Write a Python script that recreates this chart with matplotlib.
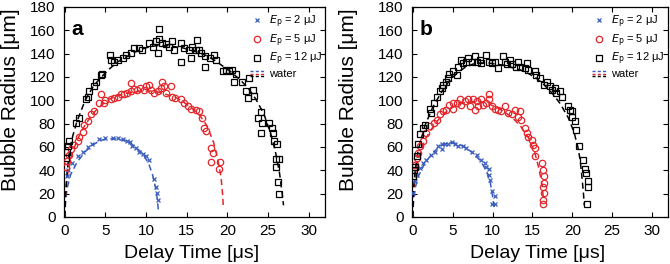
import numpy as np
import matplotlib
matplotlib.use("Agg")
import matplotlib.pyplot as plt
from matplotlib.legend_handler import HandlerBase
from matplotlib.lines import Line2D

plt.rcParams['font.family'] = ['Liberation Sans Narrow', 'Liberation Sans', 'DejaVu Sans']
plt.rcParams['mathtext.fontset'] = 'custom'
plt.rcParams['mathtext.rm'] = 'Liberation Sans Narrow'
plt.rcParams['mathtext.it'] = 'Liberation Sans Narrow:italic'

BLUE = '#3a5dbd'
RED = '#e3262b'
BLACK = '#000000'

# ---- panel a : measured points (t [us], R [um]) ----
a_2_t = [0.3, 0.4, 0.9, 1.6, 2.2, 2.8, 3.4, 4.2, 5.0, 5.9, 6.5, 7.1, 7.7, 8.0, 8.3, 8.8, 9.1, 9.6, 10.0, 10.4, 11.0, 11.2, 11.3, 11.4]
a_2_r = [35, 40, 46, 52, 56, 60, 63, 67, 68, 68, 68, 67, 65, 64, 61, 59, 56, 54, 52, 49, 33, 26, 21, 15]

a_5_t = [0.1, 0.3, 0.5, 0.7, 1.1, 1.6, 1.8, 2.2, 2.4, 2.8, 3.2, 3.6, 4.2, 4.4, 4.8, 5.0, 5.7, 6.1, 6.5, 6.9, 7.3, 7.7,
         8.1, 8.1, 8.5, 8.9, 9.3, 9.8, 10.0, 10.4, 10.6, 11.0, 11.4, 11.8, 12.0, 12.2, 12.4, 13.0, 13.2, 13.6, 14.3,
         14.7, 15.1, 15.5, 16.1, 16.5, 16.9, 17.1, 17.4, 17.96, 18.2, 17.96, 19.1, 19.0]
a_5_r = [43, 48, 53, 58, 62, 65, 69, 73, 79, 82, 88, 91, 98, 105, 98, 100, 101, 102, 103, 105, 105, 106,
         108, 115, 110, 109, 111, 109, 112, 113, 109, 106, 108, 111, 116, 112, 106, 112, 103, 102, 101,
         98, 95, 93, 92, 91, 85, 76, 74, 59, 55, 47, 47, 41]

a_12_t = [0.1, 0.3, 0.4, 0.5, 1.4, 1.8, 2.6, 2.8, 3.0, 3.6, 3.8, 4.4, 4.6, 5.5, 5.7, 6.1, 6.5, 7.1, 7.5, 8.1, 8.5,
          9.1, 9.5, 10.4, 10.8, 11.2, 11.6, 11.6, 11.4, 12.0, 12.4, 12.8, 13.2, 13.4, 14.3, 14.3, 14.7, 15.3,
          15.5, 15.7, 16.1, 16.3, 16.5, 16.7, 17.3, 17.3, 17.9, 18.4, 18.6, 19.4, 19.8, 20.2, 20.6, 21.0, 20.8,
          21.8, 22.3, 22.5, 22.7, 23.1, 23.3, 23.7, 24.1, 24.1, 24.3, 25.1, 25.5, 25.6, 25.7, 26.1, 26.0, 26.4,
          26.0, 26.2, 26.4]
a_12_r = [51, 56, 61, 65, 81, 85, 101, 103, 108, 112, 116, 122, 123, 139, 135, 133, 135, 136, 139, 141, 145,
          145, 143, 149, 146, 151, 161, 153, 141, 149, 148, 146, 151, 143, 149, 133, 145, 143,
          136, 146, 143, 152, 143, 141, 138, 129, 136, 139, 135, 125, 126, 125, 126, 123, 116,
          116, 108, 102, 119, 109, 104, 85, 90, 72, 81, 81, 76, 72, 65, 63, 50, 50,
          43, 30, 20]

# ---- panel a : water fits (dashed) ----
fa_2_t = [0, 0.1, 0.3, 0.7, 1.5, 2.5, 3.5, 4.5, 5.5, 6.5, 7.5, 8.5, 9.5, 10.3, 10.8, 11.2, 11.4, 11.5]
fa_2_r = [0, 15, 25, 36, 47, 56, 62, 66, 67, 67, 65, 61, 55, 46, 36, 24, 14, 6]
fa_5_t = [0, 0.1, 0.3, 0.7, 1.5, 2.5, 3.5, 4.5, 5.5, 6.5, 7.5, 8.5, 9.5, 10.5, 11.5, 12.5, 13.5, 14.5, 15.5,
          16.5, 17.5, 18.3, 18.8, 19.2, 19.4, 19.5]
fa_5_r = [0, 20, 35, 50, 66, 79, 89, 96, 101, 104, 106, 107, 108, 108, 107, 105, 103, 99, 94,
          88, 78, 64, 50, 35, 20, 8]
fa_12_t = [0, 0.1, 0.3, 0.6, 1.0, 1.5, 2.5, 3.5, 4.5, 5.5, 6.5, 7.5, 8.5, 9.5, 10.5, 11.5, 12.5, 13.5, 14.5,
           15.5, 16.5, 17.5, 18.5, 19.5, 20.5, 21.5, 22.5, 23.5, 24.5, 25.3, 25.9, 26.4, 26.7, 26.9]
fa_12_r = [0, 20, 40, 58, 70, 82, 100, 112, 120, 127, 133, 137, 141, 144, 146, 147, 147, 146, 145,
           143, 141, 138, 134, 129, 124, 118, 111, 101, 88, 72, 56, 38, 22, 10]

# ---- panel b : measured points ----
b_2_t = [0.0, 0.25, 0.5, 0.9, 1.3, 1.7, 2.3, 2.8, 3.2, 3.6, 3.6, 4.0, 4.4, 4.9, 5.3, 5.7, 6.3, 6.7, 7.4, 8.0,
         8.6, 9.0, 9.2, 9.5, 9.5, 9.7, 9.9, 10.3, 9.9, 10.3]
b_2_r = [21, 31, 36, 42, 46, 49, 53, 56, 61, 63, 58, 63, 63, 64, 63, 61, 61, 59, 56, 53,
         49, 46, 43, 41, 36, 32, 22, 18, 11, 11]

b_5_t = [0.25, 0.5, 0.7, 0.9, 1.3, 1.7, 2.1, 2.6, 3.0, 3.4, 3.8, 4.2, 4.6, 5.1, 5.1, 5.5, 5.9, 6.1, 6.5, 6.9,
         7.2, 7.6, 7.8, 8.0, 8.2, 8.6, 8.8, 9.2, 9.5, 9.5, 9.9, 10.3, 10.7, 11.1, 11.5, 12.0, 12.4, 12.8,
         13.2, 13.4, 13.6, 14.1, 14.3, 14.5, 14.9, 15.1, 15.3, 15.3, 16.2, 16.35, 16.4, 16.4, 16.3, 16.4,
         16.35, 16.35]
b_5_r = [45, 51, 55, 61, 65, 72, 78, 81, 83, 88, 91, 92, 96, 98, 93, 98, 101, 96, 99, 101,
         95, 101, 92, 99, 95, 101, 96, 98, 105, 101, 95, 93, 92, 91, 95, 89, 88, 92,
         86, 91, 83, 76, 72, 69, 66, 62, 59, 52, 46, 40.5, 35, 29, 26, 20.5,
         11, 15]

b_12_t = [0.0, 0.1, 0.25, 0.5, 0.7, 0.9, 1.3, 1.5, 2.1, 2.3, 2.6, 3.0, 3.4, 3.6, 3.8, 4.2, 4.4, 4.6, 5.1, 5.5,
          5.7, 6.1, 6.3, 6.7, 6.9, 7.4, 7.8, 8.0, 8.4, 8.6, 9.2, 9.5, 9.9, 10.3, 10.7, 11.3, 11.5, 11.8, 12.2,
          12.4, 13.0, 13.2, 13.4, 14.1, 14.3, 14.5, 15.3, 15.5, 15.9, 16.4, 16.8, 17.2, 17.4, 17.8, 18.0,
          18.5, 18.7, 19.5, 19.7, 19.9, 19.9, 20.3, 20.5, 20.8, 21.4, 21.6, 21.7, 22.0, 22.0, 21.9]
b_12_r = [35, 40, 43, 52, 63, 71, 76, 79, 93, 89, 98, 103, 108, 111, 113, 116, 119, 123, 125, 122,
          129, 135, 132, 133, 136, 133, 138, 133, 135, 132, 139, 133, 132, 133, 128, 138, 133, 131, 135,
          131, 129, 133, 129, 128, 132, 126, 125, 122, 119, 113, 116, 112, 109, 111, 106,
          108, 103, 95, 92, 91, 86, 82, 75, 61, 49, 41, 38, 31, 26, 11]

# ---- panel b : water fits ----
fb_2_t = [0, 0.1, 0.3, 0.7, 1.5, 2.5, 3.5, 4.5, 5.5, 6.5, 7.5, 8.5, 9.2, 9.7, 10.0, 10.2]
fb_2_r = [0, 15, 25, 35, 46, 55, 61, 64, 63, 60, 55, 48, 40, 30, 18, 8]
fb_5_t = [0, 0.1, 0.3, 0.7, 1.5, 2.5, 3.5, 4.5, 5.5, 6.5, 7.5, 8.5, 9.5, 10.5, 11.5, 12.5, 13.5, 14.5, 15.3,
          15.8, 16.2, 16.4]
fb_5_r = [0, 20, 35, 50, 66, 77, 86, 92, 96, 98, 99, 99, 97, 94, 90, 85, 78, 68, 55, 42, 28, 14]
fb_12_t = [0, 0.1, 0.3, 0.7, 1.5, 2.5, 3.5, 4.5, 5.5, 6.5, 7.5, 8.5, 9.5, 10.5, 11.5, 12.5, 13.5, 14.5,
           15.5, 16.5, 17.5, 18.5, 19.5, 20.2, 20.7, 21.0, 21.2, 21.4, 21.5]
fb_12_r = [0, 25, 40, 58, 78, 94, 106, 116, 123, 128, 131, 132, 132, 131, 130, 128, 126, 123,
           119, 113, 106, 97, 85, 73, 60, 48, 35, 20, 10]

labels = [r'$\it{E}_{\rm p}$ = 2 μJ', r'$\it{E}_{\rm p}$ = 5 μJ', r'$\it{E}_{\rm p}$ = 12 μJ']


class WaterHandler(HandlerBase):
    # three short stacked dashed lines: blue, red, black
    def create_artists(self, legend, orig_handle, xdescent, ydescent, width, height, fontsize, trans):
        arts = []
        for i, c in enumerate([BLUE, RED, BLACK]):
            y = -ydescent + height * (0.85 - 0.35 * i)
            l = Line2D([-xdescent, -xdescent + width], [y, y], color=c, lw=1.0,
                       linestyle=(0, (2.2, 1.6)), transform=trans)
            arts.append(l)
        return arts


def panel(ax, pts, fits, letter, leg_x, ylab_x):
    cols = [BLUE, RED, BLACK]
    marks = ['x', 'o', 's']
    sizes = [3.0, 4.6, 3.8]
    handles = []
    for (t, r), c in zip(fits, cols):
        ax.plot(t, r, color=c, lw=1.1, linestyle=(0, (4, 2.5)), zorder=2)
    for (t, r), c, m, s in zip(pts, cols, marks, sizes):
        h, = ax.plot(t, r, linestyle='none', marker=m, ms=s, mfc='none', mec=c, mew=0.9, zorder=3)
        handles.append(h)
    water = Line2D([], [], color='k')
    ax.set_xlim(-0.1, 32)
    ax.set_ylim(0, 180)
    ax.set_xticks(np.arange(0, 31, 5))
    ax.set_yticks(np.arange(0, 181, 20))
    ax.tick_params(direction='in', top=True, right=True, length=3.5, width=0.8, labelsize=11)
    ax.tick_params(axis='y', pad=6)
    ax.tick_params(axis='x', pad=5)
    for sp in ax.spines.values():
        sp.set_linewidth(0.9)
    ax.set_xlabel('Delay Time [μs]', fontsize=14)
    ax.xaxis.set_label_coords(0.49, -0.135)
    ax.set_ylabel('Bubble Radius [μm]', fontsize=15,
                  family=['Liberation Sans', 'DejaVu Sans'])
    ax.yaxis.set_label_coords(ylab_x, 0.56)
    ax.text(0.03, 0.94, letter, transform=ax.transAxes, fontsize=15, fontweight='bold',
            va='top', ha='left')
    ax.legend(handles + [water], labels + ['water'], loc='upper left',
              bbox_to_anchor=(leg_x, 0.995), frameon=False, fontsize=8,
              handlelength=1.3, handletextpad=0.45, labelspacing=0.2, borderpad=0,
              numpoints=1, handler_map={water: WaterHandler()})


fig = plt.figure(figsize=(6.7, 2.64), dpi=100)
ax1 = fig.add_axes([64 / 670, 1 - 217 / 264, 261 / 670, 210 / 264])
ax2 = fig.add_axes([412 / 670, 1 - 217 / 264, 256 / 670, 210 / 264])

panel(ax1, [(a_2_t, a_2_r), (a_5_t, a_5_r), (a_12_t, a_12_r)],
      [(fa_2_t, fa_2_r), (fa_5_t, fa_5_r), (fa_12_t, fa_12_r)], 'a', 0.69, -0.17)
panel(ax2, [(b_2_t, b_2_r), (b_5_t, b_5_r), (b_12_t, b_12_r)],
      [(fb_2_t, fb_2_r), (fb_5_t, fb_5_r), (fb_12_t, fb_12_r)], 'b', 0.68, -0.21)

fig.savefig('out.png', dpi=100)
